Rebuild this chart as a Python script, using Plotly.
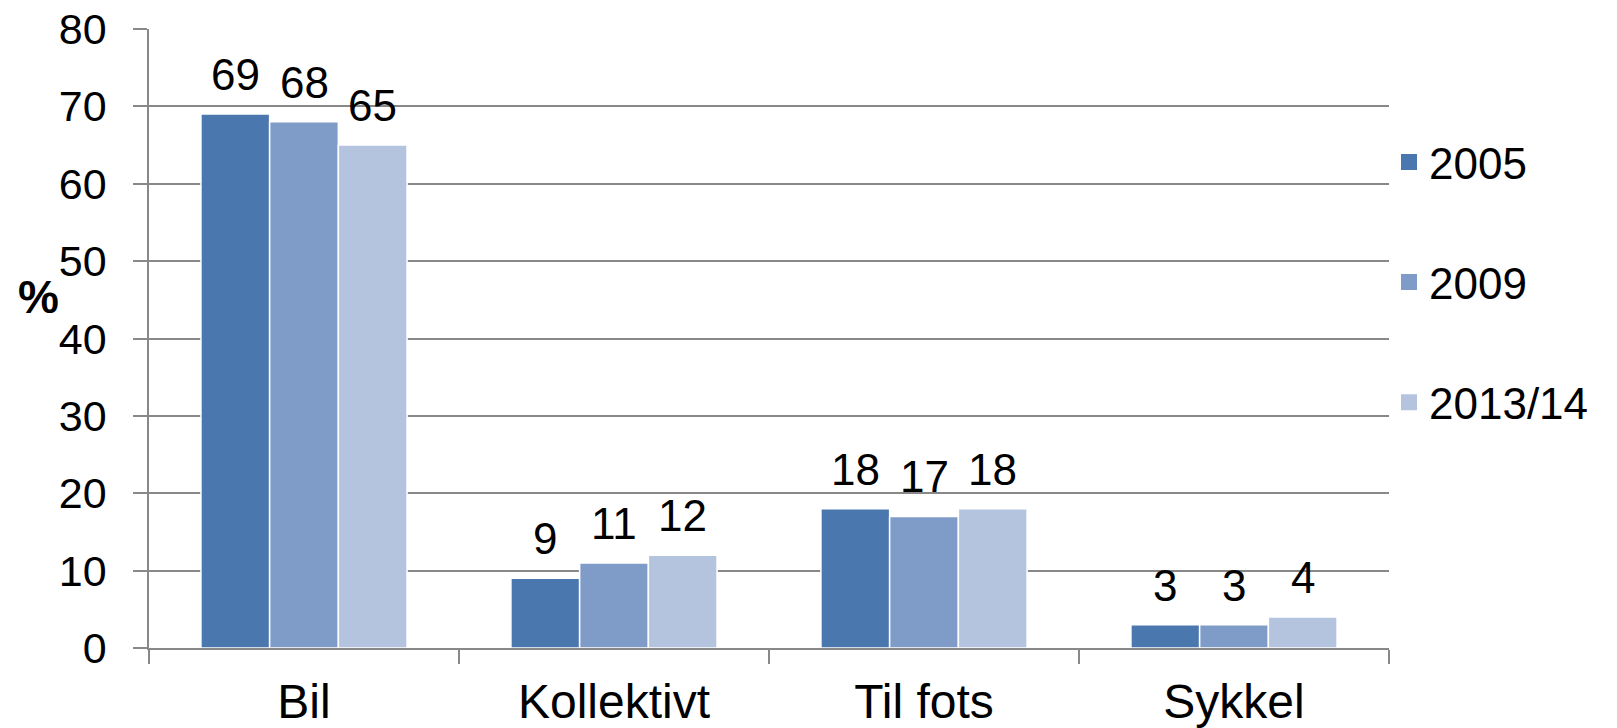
import plotly.graph_objects as go

categories = ["Bil", "Kollektivt", "Til fots", "Sykkel"]
series_names = ["2005", "2009", "2013/14"]
values_2005 = [69, 9, 18, 3]
values_2009 = [68, 11, 17, 3]
values_2013 = [65, 12, 18, 4]
y_ticks = [0, 10, 20, 30, 40, 50, 60, 70, 80]
colors = ["#4a77ae", "#7f9cc8", "#b4c4df"]

FONT = "Arial, 'Liberation Sans', sans-serif"
W, H = 1617, 728
ML, MR, MT, MB = 149, 228, 29, 80
BARGAP = 0.335

all_values = [values_2005, values_2009, values_2013]

fig = go.Figure()
for name, vals, col in zip(series_names, all_values, colors):
    fig.add_trace(go.Bar(
        x=categories, y=vals, name=name,
        marker=dict(color=col, line=dict(color="white", width=1.5)),
        showlegend=False, legendgroup=name,
    ))
# legend entries (square swatches)
for name, col in zip(series_names, colors):
    fig.add_trace(go.Scatter(
        x=[None], y=[None], mode="markers", name=name, legendgroup=name,
        marker=dict(symbol="square", size=16, color=col),
        showlegend=True,
    ))

# data labels above bars
plot_w = W - ML - MR
cat_px = plot_w / len(categories)
bar_px = cat_px * (1 - BARGAP) / len(series_names)
annotations = []
for si, vals in enumerate(all_values):
    shift = (si - (len(series_names) - 1) / 2) * bar_px
    for cat, v in zip(categories, vals):
        annotations.append(dict(
            x=cat, y=v, xref="x", yref="y", text=str(v), showarrow=False,
            xshift=shift, yshift=13, yanchor="bottom", xanchor="center",
            font=dict(family=FONT, size=44, color="black"),
        ))
annotations.append(dict(
    x=-0.0891, y=0.567, xref="paper", yref="paper", text="<b>%</b>",
    showarrow=False, xanchor="center", yanchor="middle",
    font=dict(family=FONT, size=46, color="black"),
))

fig.update_layout(
    width=W, height=H,
    margin=dict(l=ML, r=MR, t=MT, b=MB, autoexpand=False),
    paper_bgcolor="white", plot_bgcolor="white",
    barmode="group", bargap=BARGAP, bargroupgap=0,
    font=dict(family=FONT, color="black"),
    annotations=annotations,
    legend=dict(
        x=1.0, xanchor="left", y=0.842, yanchor="top",
        font=dict(family=FONT, size=44, color="black"),
        traceorder="grouped", tracegroupgap=60,
        bgcolor="rgba(0,0,0,0)",
    ),
    xaxis=dict(
        categoryorder="array", categoryarray=categories,
        showline=True, linecolor="#888888", linewidth=1.5,
        ticks="outside", tickson="boundaries", ticklen=14,
        tickcolor="#888888", tickwidth=1.5,
        tickfont=dict(family=FONT, size=48, color="black"),
        ticklabelstandoff=11, automargin=False,
        showgrid=False,
    ),
    yaxis=dict(
        range=[0, 80], tickvals=y_ticks,
        showline=True, linecolor="#888888", linewidth=1.5,
        ticks="outside", ticklen=14, tickcolor="#888888", tickwidth=1.5,
        showgrid=True, gridcolor="#888888", gridwidth=1.5,
        zeroline=False, automargin=False,
        tickfont=dict(family=FONT, size=43, color="black"),
        ticklabelstandoff=18,
    ),
)

fig.write_html(
    "out.html",
    config={"displayModeBar": False},
    post_script="document.body.style.margin='0';document.body.style.overflow='hidden';",
)
